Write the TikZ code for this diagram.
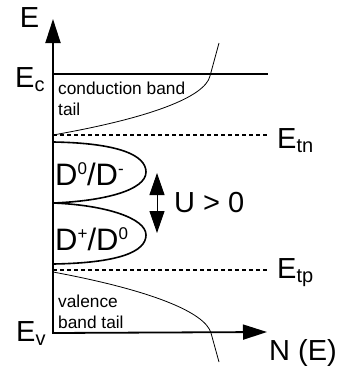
\documentclass[tikz,border=0pt]{standalone}
\usepackage{fontspec}
\setmainfont{Liberation Sans}
\usetikzlibrary{arrows.meta}
\newcommand{\lbsub}[1]{\raisebox{-4.5pt}{\fontsize{20}{20}\selectfont #1}}
\newcommand{\lbsup}[1]{\raisebox{11pt}{\fontsize{17}{17}\selectfont #1}}
\begin{document}
\begin{tikzpicture}[x=1pt,y=-1pt,
  axis/.style={line width=1.8pt, -{Triangle[length=24pt,width=15pt]}},
  level/.style={line width=1.8pt},
  dashlevel/.style={line width=1.3pt, dash pattern=on 4pt off 3pt},
  tail/.style={line width=0.8pt},
  lobe/.style={line width=1.6pt},
  uarrow/.style={line width=1pt, {Triangle[length=22pt,width=15pt]}-{Triangle[length=22pt,width=15pt]}},
  big/.style={inner sep=0pt, font=\fontsize{29}{29}\selectfont},
  dlabel/.style={inner sep=0pt, font=\fontsize{31}{31}\selectfont},
  small/.style={inner sep=0pt, align=left, font=\fontsize{17.3}{21}\selectfont}]
\useasboundingbox (0,0) rectangle (341,370);
% coordinates
\coordinate (O) at (53,333);
\coordinate (Etop) at (53,19);
\coordinate (Nend) at (267,332);
\coordinate (EcL) at (53,74);
\coordinate (EcR) at (268,74);
\coordinate (EtnL) at (53,135);
\coordinate (EtnR) at (267,135);
\coordinate (EtpL) at (53,270);
\coordinate (EtpR) at (267,270);
\coordinate (Utop) at (157,173);
\coordinate (Ubot) at (157,233);
% levels
\draw[level] (EcL) -- (EcR);
\draw[dashlevel] (EtnL) -- (EtnR);
\draw[dashlevel] (EtpL) -- (EtpR);
% tails
\draw[tail] (53,135) .. controls (150,118) and (205,97) .. (210,76) -- (219,43);
\draw[tail] (53,272) .. controls (150,290) and (205,312) .. (211,333) -- (219,362);
% lobes
\draw[lobe] (53,142) .. controls (118,143) and (146,155) .. (146,172)
  .. controls (146,190) and (105,201) .. (53,203);
\draw[lobe] (53,203) .. controls (105,205) and (146,218) .. (146,235)
  .. controls (146,252) and (118,263) .. (53,264);
% axes
\draw[axis] (O) -- (Etop);
\draw[axis] ([xshift=-0.9pt]O) -- (Nend);
% U arrow
\draw[uarrow] (Utop) -- (Ubot);
% labels
\node[big, anchor=center] (E) at (29.5,17.5) {E};
\node[big, anchor=base west] (Ec) at (15,87) {E\lbsub{c}};
\node[big, anchor=base west] (Etn) at (277,148) {E\lbsub{tn}};
\node[big, anchor=base west] (Etp) at (277,278) {E\lbsub{tp}};
\node[big, anchor=base west] (Ev) at (16,341) {E\lbsub{v}};
\node[big, anchor=base west] (NE) at (269,360) {N (E)};
\node[big, anchor=base west] (U) at (174,212) {U > 0};
\node[dlabel, anchor=base west] (Dm) at (55,185) {D\lbsup{0}/D\lbsup{-}};
\node[dlabel, anchor=base west] (Dp) at (55,250) {D\lbsup{+}/D\lbsup{0}};
\node[small, anchor=north west] (cbt) at (58,82) {conduction band\\tail};
\node[small, anchor=north west] (vbt) at (58,295) {valence\\band tail};
\end{tikzpicture}
\end{document}
